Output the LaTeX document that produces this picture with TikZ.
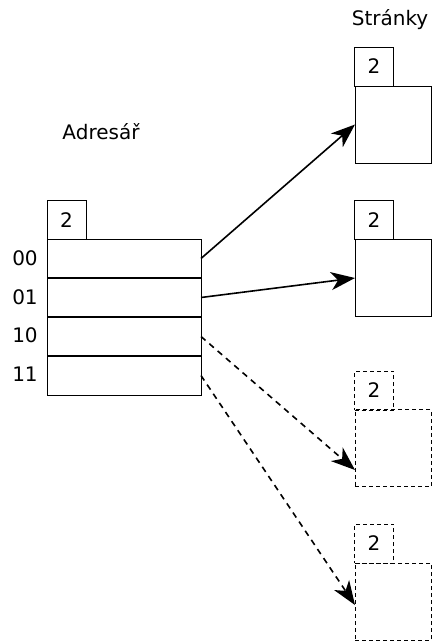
\documentclass[tikz,border=0pt]{standalone}
\usepackage{fontspec}
\setmainfont{DejaVu Sans}
\usetikzlibrary{arrows.meta}
\begin{document}
\begin{tikzpicture}[x=1pt,y=-1pt,font=\fontsize{20}{24}\selectfont,
	every node/.style={inner sep=0pt,outer sep=0pt,line width=1pt},
	depth/.style={draw,minimum width=39pt,minimum height=39pt},
	cell/.style={draw,minimum width=154pt,minimum height=39pt},
	page/.style={draw,minimum width=76pt,minimum height=77pt},
	ghost/.style={dash pattern=on 4pt off 3pt},
	ptr/.style={line width=1.6pt,-{Stealth[length=24pt,width=18pt,inset=7pt]}}]
	\useasboundingbox (0,0) rectangle (432,641);
	% adresar
	\node (adr) at (101,132){Adresář};
	\node[depth] (gd) at (66.5,220){2};
	\node[cell] (c00) at (124,258.5){};
	\node[cell] (c01) at (124,297.5){};
	\node[cell] (c10) at (124,336.5){};
	\node[cell] (c11) at (124,375.5){};
	\draw[line width=2pt] (c00.south west)--(c00.south east);
	\draw[line width=2pt] (c01.south west)--(c01.south east);
	\draw[line width=2pt] (c10.south west)--(c10.south east);
	\node (l00) at (25,258){00};
	\node (l01) at (25,297){01};
	\node (l10) at (25,335){10};
	\node (l11) at (25,374){11};
	% stranky
	\node (str) at (390,20){Stránky};
	\node[depth] (d1) at (374,66.5){2};
	\node[page] (p1) at (393,124.5){};
	\node[depth] (d2) at (374,220){2};
	\node[page] (p2) at (393,278){};
	\node[depth,ghost] (d3) at (374,390.5){2};
	\node[page,ghost] (p3) at (393,448){};
	\node[depth,ghost] (d4) at (374,543.5){2};
	\node[page,ghost] (p4) at (393,601.5){};
	\coordinate (t3) at (355,470);
	\coordinate (t4) at (355,605);
	% \draw[ptr] (c10.east)--(p3.west);
	\draw[ptr] (c00.east)--(p1.west);
	\draw[ptr] (c01.east)--(p2.west);
	\draw[ptr,dash pattern=on 6pt off 5pt] (c10.east)--(t3);
	\draw[ptr,dash pattern=on 6pt off 5pt] (c11.east)--(t4);
\end{tikzpicture}
\end{document}
